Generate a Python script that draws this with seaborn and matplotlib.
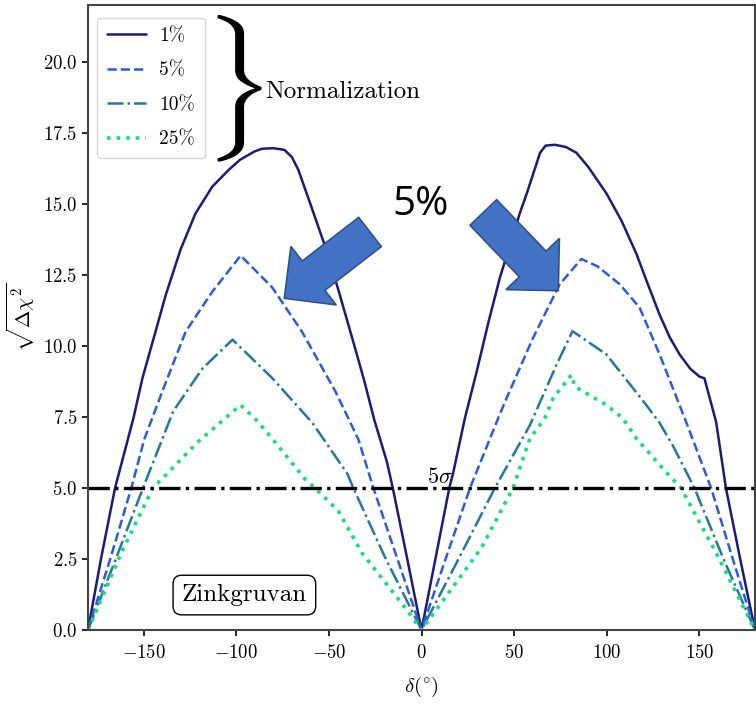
import matplotlib
matplotlib.use("Agg")
import matplotlib.pyplot as plt
import matplotlib.patches as mpatches
from matplotlib.transforms import IdentityTransform
import seaborn as sns
import pandas as pd

# ---------------- data ----------------
labels = ["1%", "5%", "10%", "25%"]

delta_1 = [-180, -173, -165.4, -155.5, -150.6, -144, -138, -130, -122, -113, -104, -98, -90, -86,
           -80, -74, -70, -66.5, -60, -52, -45, -37.5, -31, -25.5, -18.8, -15.5, -8, 0,
           7.5, 15, 17.2, 23.4, 29.8, 36, 42.3, 48, 53, 57, 60, 64, 67, 72, 78, 83.6, 90, 99.8,
           108, 116, 122, 128.5, 134, 139.3, 145, 150, 152.7, 155, 159, 164.3, 172, 180]
chi_1 = [0, 2.5, 5.0, 7.45, 8.87, 10.4, 11.8, 13.4, 14.66, 15.6, 16.2, 16.55, 16.85, 16.94,
         16.96, 16.9, 16.65, 16.2, 15.0, 13.5, 12.0, 10.3, 8.8, 7.4, 5.95, 5.0, 2.6, 0,
         2.5, 5.0, 5.56, 7.45, 9.1, 10.8, 12.4, 13.6, 14.66, 15.4, 16.0, 16.8, 17.05, 17.08, 17.0,
         16.8, 16.3, 15.37, 14.4, 13.24, 12.2, 11.1, 10.3, 9.7, 9.2, 8.92, 8.86, 8.3, 7.33, 5.0,
         2.5, 0]

delta_5 = [-180, -168, -156.6, -149.7, -139.9, -127.3, -113, -97.6, -80.6, -64.5, -46.5, -39.5,
           -34, -26, -13, 0,
           13, 26.2, 42.3, 45.9, 60.2, 74.6, 86.3, 95, 107, 117.7, 128.5, 142.8, 156.3, 168, 180]
chi_5 = [0, 2.5, 5.0, 6.7, 8.4, 10.5, 11.9, 13.18, 12.06, 10.5, 8.4, 7.45,
         6.7, 5.0, 2.5, 0,
         2.5, 5.0, 7.6, 8.16, 10.28, 12.17, 13.06, 12.8, 12.17, 11.35, 9.7, 7.33, 5.0, 2.5, 0]

delta_10 = [-180, -165, -150.3, -134, -118.3, -102, -80.6, -59, -40, -36.8, -20, 0,
            20, 39.6, 58.5, 72.9, 81.5, 99.8, 121.3, 128.4, 135.6, 147.3, 163, 180]
chi_10 = [0, 2.5, 5.0, 7.7, 9.2, 10.22, 8.87, 7.3, 5.5, 5.0, 2.6, 0,
          2.5, 5.0, 7.21, 9.34, 10.52, 9.7, 7.92, 7.3, 6.5, 5.0, 2.5, 0]

delta_25 = [-180, -162, -145, -140, -121, -97.7, -90, -80.6, -63, -57.5, -45, -32, -9, 0,
            32.4, 49.4, 58.5, 66.5, 71, 80.9, 82.7, 99.8, 108.7, 116, 132, 140, 159, 180]
chi_25 = [0, 2.72, 5.0, 5.32, 6.6, 7.92, 7.45, 6.74, 5.32, 5.0, 4.2, 2.7, 0.8, 0,
          2.9, 5.0, 6.74, 7.45, 8.16, 8.98, 8.57, 7.92, 7.45, 6.74, 5.56, 5.0, 2.72, 0]

sigma_level = 5.0
xticks = [-150, -100, -50, 0, 50, 100, 150]
yticks = [0.0, 2.5, 5.0, 7.5, 10.0, 12.5, 15.0, 17.5, 20.0]

# ---------------- style ----------------
sns.set_style("ticks")
plt.rcParams["font.family"] = "serif"
plt.rcParams["font.serif"] = ["cmr10", "DejaVu Serif"]
plt.rcParams["mathtext.fontset"] = "cm"
plt.rcParams["axes.unicode_minus"] = False
plt.rcParams["axes.formatter.use_mathtext"] = True
for k in ["text.color", "axes.labelcolor", "xtick.color", "ytick.color"]:
    plt.rcParams[k] = "black"

colors = ["#1b1b78", "#2b5ce0", "#2378a3", "#14e07a"]
styles = ["-", "--", "-.", ":"]
widths = [1.8, 1.8, 1.8, 2.6]

fig = plt.figure(figsize=(7.56, 7.04), dpi=100)
ax = fig.add_axes([88 / 756, 74 / 704, 667 / 756, 625 / 704])

series = [(delta_1, chi_1), (delta_5, chi_5), (delta_10, chi_10), (delta_25, chi_25)]
for (d, c), lab, col, ls, lw in zip(series, labels, colors, styles, widths):
    df = pd.DataFrame({"delta": d, "chi": c})
    sns.lineplot(data=df, x="delta", y="chi", ax=ax, color=col, linestyle=ls, lw=lw,
                 label=lab, sort=False, estimator=None)

ax.axhline(sigma_level, color="black", linestyle="-.", lw=2.4)
ax.text(10, sigma_level + 0.05, r"$5\sigma$", fontsize=16, ha="center", va="bottom")

ax.set_xlim(-180, 180)
ax.set_ylim(0, 22)
ax.set_xticks(xticks)
ax.set_yticks(yticks)
ax.tick_params(labelsize=13.5, length=4, width=1.2)
ax.tick_params(axis="x", pad=6)
for s in ax.spines.values():
    s.set_linewidth(1.5)
    s.set_color("#444444")

ax.set_xlabel(r"$\delta(^{\circ})$", fontsize=15, labelpad=9)
ax.set_ylabel(r"$\sqrt{\Delta\chi^2}$", fontsize=15)

leg = ax.legend(loc="upper left", bbox_to_anchor=(0.0135, 0.98), borderaxespad=0,
                fontsize=14, labelspacing=0.85, handlelength=2.0, frameon=True,
                fancybox=True, edgecolor="#cccccc", borderpad=0.5, handletextpad=0.7)

ax.text(-84.3, 18.95, "Normalization", fontsize=18, ha="left", va="center")
ax.text(-102.0, 19.05, r"$\}$", fontsize=88, ha="center", va="center", color="black")

ax.text(-95.6, 1.23, "Zinkgruvan", fontsize=18, ha="center", va="center",
        bbox=dict(boxstyle="round,pad=0.35", fc="white", ec="black", lw=1.0))

# annotation text and arrows (figure pixel coordinates)
fig.text(421 / 756, 1 - 205 / 704, "5%", fontsize=29, family="Open Sans",
         ha="center", va="center", color="black")
for (x0, y0, dx, dy) in [(370, 232, -85.7, 66.3), (483.3, 212.5, 75, 78.2)]:
    arr = mpatches.FancyArrow(x0, 704 - y0, dx, -dy, width=37, head_width=74, head_length=37,
                              length_includes_head=True, fc="#4472C4", ec="#2F528F", lw=1.2,
                              transform=IdentityTransform())
    fig.add_artist(arr)

fig.savefig("out.png", dpi=100)
